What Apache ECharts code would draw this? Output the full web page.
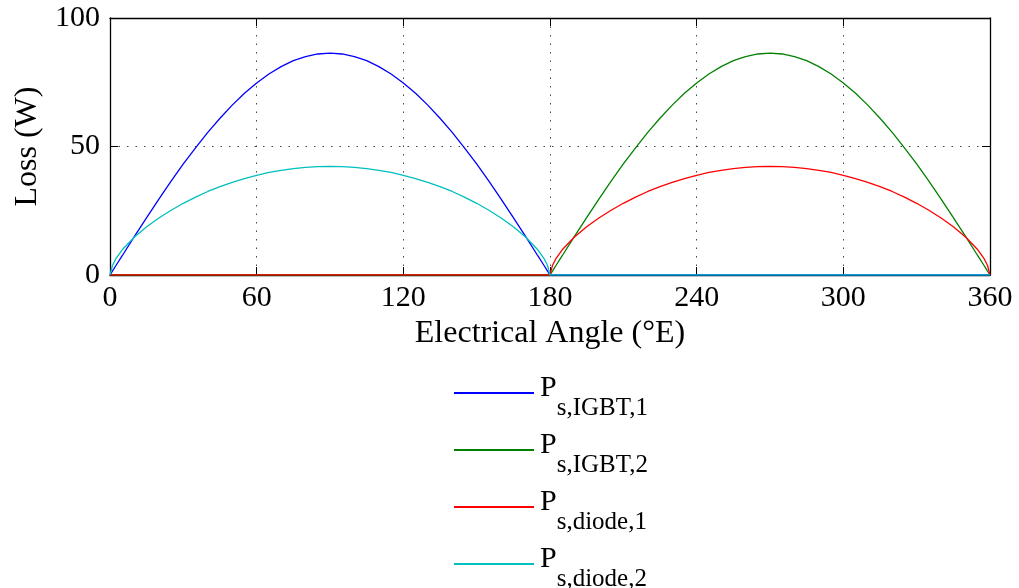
<!DOCTYPE html>
<html>
<head>
<meta charset="utf-8">
<script src="https://cdn.jsdelivr.net/npm/echarts@6/dist/echarts.min.js"></script>
<style>
  html, body { margin: 0; padding: 0; background: #fff; }
  #chart { width: 1019px; height: 588px; }
</style>
</head>
<body>
<div id="chart"></div>
<script>
// angles for the conducting half cycle (extra points near the ends)
var halfAngle = [0, 1, 2.5, 5, 10, 15, 20, 25, 30, 35, 40, 45, 50, 55, 60, 65, 70, 75, 80, 85, 90,
    95, 100, 105, 110, 115, 120, 125, 130, 135, 140, 145, 150, 155, 160, 165, 170, 175, 177.5, 179, 180]
// IGBT loss over its half cycle
var igbtHalf = [0, 1.5, 3.8, 7.5, 15.0, 22.3, 29.5, 36.5, 43.2, 49.5, 55.5, 61.0, 66.1, 70.7, 74.7, 78.2, 81.1, 83.4, 85.0, 86.0, 86.3,
    86.0, 85.0, 83.4, 81.1, 78.2, 74.7, 70.7, 66.1, 61.0, 55.5, 49.5, 43.2, 36.5, 29.5, 22.3, 15.0, 7.5, 3.8, 1.5, 0]
// diode loss over its half cycle
var diodeHalf = [0, 3.7, 6.5, 9.8, 14.8, 18.8, 22.2, 25.2, 27.9, 30.3, 32.5, 34.4, 36.0, 37.5, 38.8, 39.9, 40.7, 41.4, 41.9, 42.2, 42.3,
    42.2, 41.9, 41.4, 40.7, 39.9, 38.8, 37.5, 36.0, 34.4, 32.5, 30.3, 27.9, 25.2, 22.2, 18.8, 14.8, 9.8, 6.5, 3.7, 0]
var xTicks = [0, 60, 120, 180, 240, 300, 360]
var yTicks = [0, 50, 100]

var names = ['Ps,IGBT,1', 'Ps,IGBT,2', 'Ps,diode,1', 'Ps,diode,2']
var subs = ['s,IGBT,1', 's,IGBT,2', 's,diode,1', 's,diode,2']
var colors = ['#0000ff', '#008000', '#ff0000', '#00bfbf']
// which half each one conducts in: 0 = first, 1 = second
var halves = [0, 1, 1, 0]
var shapes = [igbtHalf, igbtHalf, diodeHalf, diodeHalf]

function buildData(shape, half) {
    var out = []
    for (var i = 0; i < halfAngle.length; i++) {
        var a = halfAngle[i]
        if (half == 0) {
            out.push([a, shape[i]])
        } else {
            out.push([a, 0])
        }
    }
    for (var j = 1; j < halfAngle.length; j++) {
        var b = halfAngle[j] + 180
        if (half == 1) {
            out.push([b, shape[j]])
        } else {
            out.push([b, 0])
        }
    }
    return out
}

var font = 'Liberation Serif, Times New Roman, serif'
var seriesList = []
for (var k = 0; k < names.length; k++) {
    seriesList.push({
        name: names[k],
        type: 'line',
        data: buildData(shapes[k], halves[k]),
        showSymbol: false,
        smooth: false,
        lineStyle: { color: colors[k], width: 1.3 },
        itemStyle: { color: colors[k] }
    })
}

var myChart = echarts.init(document.getElementById('chart'))
var option = {
    animation: false,
    backgroundColor: '#fff',
    grid: { left: 110, right: 29, top: 18, bottom: 313, outerBoundsMode: 'none' },
    legend: {
        orient: 'vertical',
        left: 454,
        top: 365,
        height: 260,
        padding: 0,
        itemWidth: 80,
        itemHeight: 2,
        itemGap: 1,
        icon: 'rect',
        selectedMode: false,
        data: names,
        formatter: function (name) {
            return '{p|P}{s|' + subs[names.indexOf(name)] + '}'
        },
        textStyle: {
            fontFamily: font,
            color: '#000',
            rich: {
                // big line height pushes the subscript down
                p: { fontFamily: font, fontSize: 30, lineHeight: 56, verticalAlign: 'top', padding: [8, 0, 0, 1], color: '#000' },
                s: { fontFamily: font, fontSize: 25, lineHeight: 24, verticalAlign: 'bottom', color: '#000' }
            }
        }
    },
    xAxis: [{
        type: 'value',
        min: 0,
        max: 360,
        interval: 60,
        name: 'Electrical Angle (°E)',
        nameLocation: 'middle',
        nameGap: 43,
        nameTextStyle: { fontFamily: font, fontSize: 32, color: '#000' },
        axisLine: { show: true, onZero: false, lineStyle: { color: '#000', width: 1.3 } },
        axisTick: { show: true, inside: true, length: 8, lineStyle: { color: '#000' } },
        axisLabel: { fontFamily: font, fontSize: 30, color: '#000', margin: 8, showMinLabel: true, showMaxLabel: true },
        splitLine: { show: true, lineStyle: { color: '#444', type: [1.5, 7], width: 1 } }
    }, {
        type: 'value',
        position: 'top',
        min: 0,
        max: 360,
        interval: 60,
        axisLine: { show: true, onZero: false, lineStyle: { color: '#000', width: 1.3 } },
        axisTick: { show: true, inside: true, length: 8, lineStyle: { color: '#000' } },
        axisLabel: { show: false },
        splitLine: { show: false }
    }],
    yAxis: [{
        type: 'value',
        min: 0,
        max: 100,
        interval: 50,
        name: 'Loss (W)',
        nameLocation: 'middle',
        nameRotate: 90,
        nameGap: 66,
        nameTextStyle: { fontFamily: font, fontSize: 32, color: '#000' },
        axisLine: { show: true, onZero: false, lineStyle: { color: '#000', width: 1.3 } },
        axisTick: { show: true, inside: true, length: 8, lineStyle: { color: '#000' } },
        axisLabel: { fontFamily: font, fontSize: 30, color: '#000', margin: 10, showMinLabel: true, showMaxLabel: true },
        splitLine: { show: true, lineStyle: { color: '#444', type: [1.5, 7], width: 1 } }
    }, {
        type: 'value',
        position: 'right',
        min: 0,
        max: 100,
        interval: 50,
        axisLine: { show: true, onZero: false, lineStyle: { color: '#000', width: 1.3 } },
        axisTick: { show: true, inside: true, length: 8, lineStyle: { color: '#000' } },
        axisLabel: { show: false },
        splitLine: { show: false }
    }],
    series: seriesList
}
myChart.setOption(option)
</script>
</body>
</html>
